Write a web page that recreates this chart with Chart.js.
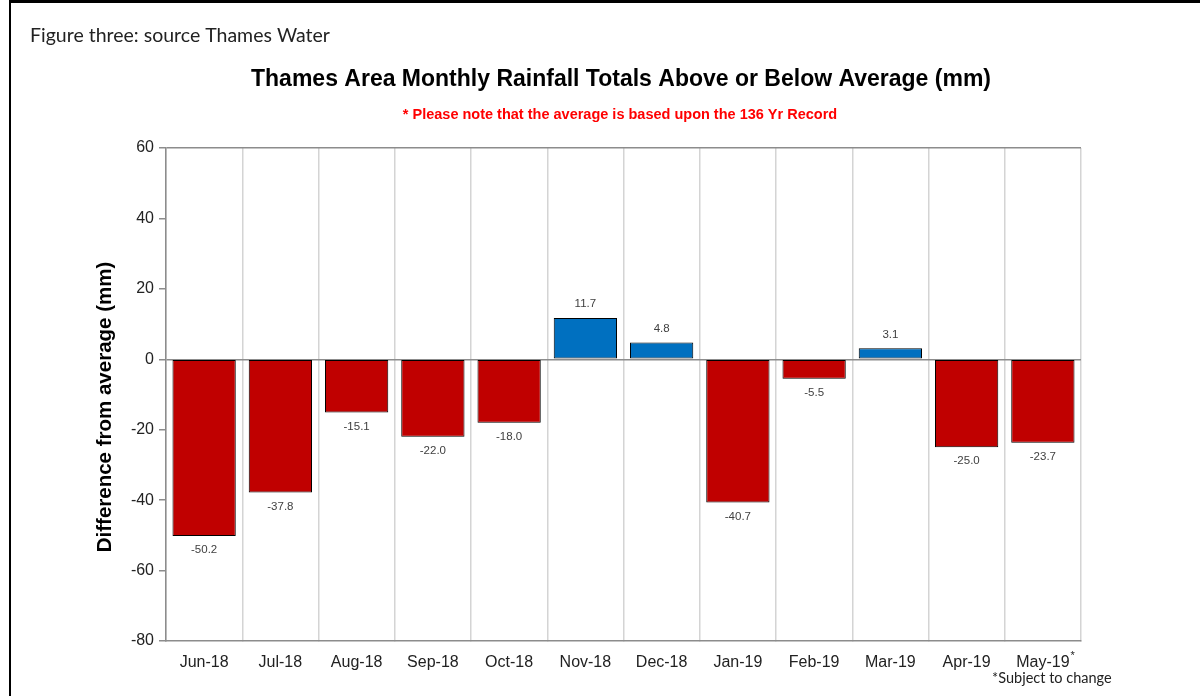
<!DOCTYPE html>
<html>
<head>
<meta charset="utf-8">
<script src="https://cdn.jsdelivr.net/npm/chart.js@4.4.1/dist/chart.umd.min.js"></script>
<style>
  body { margin: 0; background: #fff; }
  canvas { display: block; }
</style>
</head>
<body>
<canvas id="rain-chart" width="1200" height="696"></canvas>
<script>
const months = ["Jun-18", "Jul-18", "Aug-18", "Sep-18", "Oct-18", "Nov-18", "Dec-18", "Jan-19", "Feb-19", "Mar-19", "Apr-19", "May-19"];
const diffFromAverage = [-50.2, -37.8, -15.1, -22.0, -18.0, 11.7, 4.8, -40.7, -5.5, 3.1, -25.0, -23.7];
const yTicks = [60, 40, 20, 0, -20, -40, -60, -80];

const RED = "#C00000";
const BLUE = "#0070C0";
const ARIAL = "'Liberation Sans', Arial, sans-serif";
const CALIBRI = "Lato, 'Noto Sans', sans-serif";

// frame, captions and bar value labels
const decorations = {
  id: "decorations",
  beforeDraw(chart) {
    const ctx = chart.ctx;
    ctx.save();
    ctx.fillStyle = "#fff";
    ctx.fillRect(0, 0, chart.width, chart.height);
    ctx.fillStyle = "#000";
    ctx.fillRect(9, 0, chart.width - 9, 3);
    ctx.fillRect(9, 0, 2, chart.height);
    ctx.restore();
  },
  afterDraw(chart) {
    const ctx = chart.ctx;
    ctx.save();
    ctx.textBaseline = "middle";

    ctx.fillStyle = "#222";
    ctx.textAlign = "left";
    ctx.font = "19.5px " + CALIBRI;
    ctx.fillText("Figure three: source Thames Water", 30, 36);

    ctx.fillStyle = "#000";
    ctx.textAlign = "center";
    ctx.font = "bold 23px " + ARIAL;
    ctx.fillText("Thames Area Monthly Rainfall Totals Above or Below Average (mm)", 621, 80);

    ctx.fillStyle = "#FF0000";
    ctx.font = "bold 14.5px " + ARIAL;
    ctx.fillText("* Please note that the average is based upon the 136 Yr Record", 620, 115);

    ctx.save();
    ctx.translate(105, 407);
    ctx.rotate(-Math.PI / 2);
    ctx.fillStyle = "#000";
    ctx.font = "bold 20.5px " + ARIAL;
    ctx.fillText("Difference from average (mm)", 0, 0);
    ctx.restore();

    // value labels
    const meta = chart.getDatasetMeta(0);
    ctx.fillStyle = "#404040";
    ctx.font = "11.5px " + ARIAL;
    meta.data.forEach((bar, i) => {
      const v = diffFromAverage[i];
      const y = v >= 0 ? bar.y - 14 : bar.y + 14;
      ctx.fillText(v.toFixed(1), bar.x, y);
    });

    // note under last month
    const xs = chart.scales.x;
    const lastX = xs.getPixelForValue(months.length - 1);
    ctx.font = "16px " + ARIAL;
    const w = ctx.measureText(months[months.length - 1]).width;
    ctx.fillStyle = "#222";
    ctx.font = "11px " + ARIAL;
    ctx.textAlign = "left";
    ctx.fillText("*", lastX + w / 2 + 1, 656);
    ctx.textAlign = "center";
    ctx.font = "14.5px " + CALIBRI;
    ctx.fillText("*Subject to change", lastX + 9, 678);
    ctx.restore();
  }
};

new Chart(document.getElementById("rain-chart"), {
  type: "bar",
  data: {
    labels: months,
    datasets: [{
      data: diffFromAverage,
      backgroundColor: diffFromAverage.map(v => v >= 0 ? BLUE : RED),
      borderColor: "#000",
      borderWidth: 1,
      borderSkipped: false,
      barPercentage: 0.83,
      categoryPercentage: 1
    }]
  },
  options: {
    responsive: false,
    animation: false,
    layout: { padding: { top: 148, right: 119, left: 0, bottom: 0 } },
    plugins: {
      legend: { display: false },
      tooltip: { enabled: false }
    },
    scales: {
      x: {
        grid: { color: "#d4d4d4", lineWidth: 1.5, tickLength: 0, offset: true },
        border: { color: "#8c8c8c", width: 1.5 },
        ticks: { color: "#222", font: { family: ARIAL, size: 16 }, padding: 12, maxRotation: 0 },
        afterFit(scale) { scale.height = 55; }
      },
      y: {
        min: -80,
        max: 60,
        afterBuildTicks(scale) { scale.ticks = yTicks.map(v => ({ value: v })); },
        grid: {
          color: c => (c.tick && (c.tick.value === 0 || c.tick.value === 60)) ? "#8c8c8c" : "transparent",
          tickColor: "#8c8c8c",
          tickLength: 7,
          lineWidth: 1.5
        },
        border: { color: "#8c8c8c", width: 1.5 },
        ticks: { color: "#222", font: { family: ARIAL, size: 16 }, padding: 5 },
        afterFit(scale) { scale.width = 166; }
      }
    }
  },
  plugins: [decorations]
});
</script>
</body>
</html>
